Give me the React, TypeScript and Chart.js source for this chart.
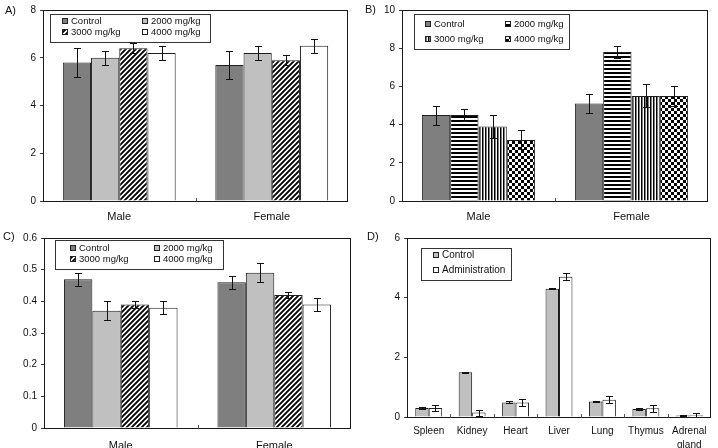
import React, { useEffect, useRef } from 'react';
import { Chart, registerables } from 'chart.js';

Chart.register(...registerables);

const FONT = '"Liberation Sans", Arial, Helvetica, sans-serif';

// ---- shared categories / series names ----
const sexGroups = ['Male', 'Female'];
const doseNames = ['Control', '2000 mg/kg', '3000 mg/kg', '4000 mg/kg'];

// ---- panel A ----
const aControl = [5.8, 5.7];
const a2000 = [6.0, 6.2];
const a3000 = [6.4, 5.9];
const a4000 = [6.2, 6.5];
const aControlSd = [0.6, 0.6];
const a2000Sd = [0.3, 0.3];
const a3000Sd = [0.2, 0.2];
const a4000Sd = [0.3, 0.3];
const aYMax = 8;
const aYStep = 2;

// ---- panel B ----
const bControl = [4.5, 5.1];
const b2000 = [4.5, 7.8];
const b3000 = [3.9, 5.5];
const b4000 = [3.2, 5.5];
const bControlSd = [0.5, 0.5];
const b2000Sd = [0.3, 0.3];
const b3000Sd = [0.6, 0.6];
const b4000Sd = [0.5, 0.5];
const bYMax = 10;
const bYStep = 2;

// ---- panel C ----
const cControl = [0.47, 0.46];
const c2000 = [0.37, 0.49];
const c3000 = [0.39, 0.42];
const c4000 = [0.38, 0.39];
const cControlSd = [0.02, 0.02];
const c2000Sd = [0.03, 0.03];
const c3000Sd = [0.01, 0.01];
const c4000Sd = [0.02, 0.02];
const cYMax = 0.6;
const cYStep = 0.1;

// ---- panel D ----
const organs = ['Spleen', 'Kidney', 'Heart', 'Liver', 'Lung', 'Thymus', ['Adrenal', 'gland']];
const groupNames = ['Control', 'Administration'];
const dControl = [0.3, 1.5, 0.49, 4.3, 0.52, 0.27, 0.05];
const dAdmin = [0.3, 0.15, 0.49, 4.7, 0.58, 0.29, 0.06];
const dControlSd = [0.03, 0.02, 0.03, 0.02, 0.03, 0.02, 0.01];
const dAdminSd = [0.1, 0.1, 0.13, 0.12, 0.12, 0.12, 0.08];
const dYMax = 6;
const dYStep = 2;

const DARK_GREY = '#7f7f7f';
const LIGHT_GREY = '#c0c0c0';
const WHITE = '#ffffff';

function makePattern(kind: string): CanvasPattern | string {
  const t = document.createElement('canvas');
  const g = t.getContext('2d');
  if (!g) return '#888';
  if (kind === 'diag') {
    t.width = 5; t.height = 5;
    g.fillStyle = '#fff'; g.fillRect(0, 0, 5, 5);
    g.strokeStyle = '#000'; g.lineWidth = 1.9;
    g.beginPath();
    g.moveTo(-2.5, 2.5); g.lineTo(2.5, -2.5);
    g.moveTo(0, 5); g.lineTo(5, 0);
    g.moveTo(2.5, 7.5); g.lineTo(7.5, 2.5);
    g.stroke();
  } else if (kind === 'hstripe') {
    t.width = 4; t.height = 4;
    g.fillStyle = '#fff'; g.fillRect(0, 0, 4, 4);
    g.fillStyle = '#000'; g.fillRect(0, 0, 4, 2);
  } else if (kind === 'vstripe') {
    t.width = 3; t.height = 3;
    g.fillStyle = '#fff'; g.fillRect(0, 0, 3, 3);
    g.fillStyle = '#000'; g.fillRect(0, 0, 1.5, 3);
  } else {
    t.width = 6; t.height = 6;
    g.fillStyle = '#fff'; g.fillRect(0, 0, 6, 6);
    g.fillStyle = '#000'; g.fillRect(0, 0, 3, 3); g.fillRect(3, 3, 3, 3);
  }
  return g.createPattern(t, 'repeat') || '#888';
}

// Error whiskers drawn from each dataset's `errorBars` array.
const errorBarPlugin = {
  id: 'errorBars',
  afterDatasetsDraw(chart: any) {
    const { ctx } = chart;
    const ys = chart.scales.y;
    ctx.save();
    ctx.strokeStyle = '#111';
    ctx.lineWidth = 1;
    chart.data.datasets.forEach((ds: any, di: number) => {
      const errs = ds.errorBars;
      if (!errs) return;
      const meta = chart.getDatasetMeta(di);
      meta.data.forEach((bar: any, i: number) => {
        const v = ds.data[i];
        const e = errs[i];
        const x = Math.round(bar.x) + 0.5;
        const yTop = Math.round(ys.getPixelForValue(v + e)) + 0.5;
        const yBot = Math.round(ys.getPixelForValue(Math.max(0, v - e))) + 0.5;
        const cap = 3.5;
        ctx.beginPath();
        ctx.moveTo(x, yTop); ctx.lineTo(x, yBot);
        ctx.moveTo(x - cap, yTop); ctx.lineTo(x + cap, yTop);
        ctx.moveTo(x - cap, yBot); ctx.lineTo(x + cap, yBot);
        ctx.stroke();
      });
    });
    ctx.restore();
  },
};

// Plot frame plus small inner tick marks between categories.
const framePlugin = {
  id: 'plotFrame',
  afterDatasetsDraw(chart: any) {
    const { ctx, chartArea: a } = chart;
    const xs = chart.scales.x;
    const L = Math.round(a.left) + 0.5;
    const R = Math.round(a.right) - 0.5;
    const T = Math.round(a.top) + 0.5;
    const B = Math.round(a.bottom) + 0.5;
    ctx.save();
    ctx.strokeStyle = '#1a1a1a';
    ctx.lineWidth = 1;
    ctx.strokeRect(L, T, R - L, B - T);
    ctx.strokeStyle = '#555';
    ctx.beginPath();
    const n = chart.data.labels.length;
    for (let i = 0; i < n - 1; i++) {
      const x = Math.round((xs.getPixelForTick(i) + xs.getPixelForTick(i + 1)) / 2) + 0.5;
      ctx.moveTo(x, B - 3.5);
      ctx.lineTo(x, B);
    }
    ctx.stroke();
    ctx.restore();
  },
};

// Boxed legend placed inside the plot area.
const boxLegendPlugin = {
  id: 'boxLegend',
  afterDatasetsDraw(chart: any, _args: any, opts: any) {
    if (!opts || !opts.w) return;
    const { ctx, chartArea: a } = chart;
    const x0 = Math.round(a.left + opts.x) + 0.5;
    const y0 = Math.round(a.top + opts.y) + 0.5;
    ctx.save();
    ctx.fillStyle = '#fff';
    ctx.fillRect(x0, y0, opts.w, opts.h);
    ctx.strokeStyle = '#333';
    ctx.lineWidth = 1;
    ctx.strokeRect(x0, y0, opts.w, opts.h);
    ctx.font = `${opts.fontSize}px ${FONT}`;
    ctx.textBaseline = 'middle';
    ctx.textAlign = 'left';
    const s = opts.swatch;
    chart.data.datasets.forEach((ds: any, i: number) => {
      const col = i % opts.cols;
      const row = Math.floor(i / opts.cols);
      const sx = Math.round(a.left + opts.colX[col]);
      const sy = Math.round(a.top + opts.rowY[row] - s / 2);
      ctx.fillStyle = ds.backgroundColor;
      ctx.fillRect(sx, sy, s, s);
      ctx.strokeStyle = '#222';
      ctx.strokeRect(sx + 0.5, sy + 0.5, s - 1, s - 1);
      ctx.fillStyle = '#111';
      ctx.fillText(ds.label, sx + s + opts.gap, a.top + opts.rowY[row] + 0.5);
    });
    ctx.restore();
  },
};

type Series = { label: string; data: number[]; sd: number[]; fill: any };

type PanelSpec = {
  labels: any[];
  series: Series[];
  yMax: number;
  yStep: number;
  W: number;
  H: number;
  area: { left: number; top: number; right: number; bottom: number };
  groupPct: number;
  xFont: number;
  xLineHeight: number;
  xPad: number;
  legend: any;
};

function buildConfig(p: PanelSpec): any {
  return {
    type: 'bar',
    data: {
      labels: p.labels,
      datasets: p.series.map((s) => ({
        label: s.label,
        data: s.data,
        errorBars: s.sd,
        backgroundColor: s.fill,
        borderColor: '#1e1e1e',
        borderWidth: 1,
        categoryPercentage: p.groupPct,
        barPercentage: 1,
      })),
    },
    options: {
      animation: false,
      responsive: false,
      devicePixelRatio: 1,
      layout: { padding: { top: p.area.top, right: p.W - p.area.right, left: 0, bottom: 0 } },
      plugins: {
        legend: { display: false },
        tooltip: { enabled: false },
        boxLegend: p.legend,
      },
      scales: {
        x: {
          grid: { display: false, drawTicks: false },
          border: { display: false },
          ticks: {
            color: '#111',
            padding: p.xPad,
            maxRotation: 0,
            autoSkip: false,
            font: { family: FONT, size: p.xFont, lineHeight: p.xLineHeight },
          },
          afterFit: (s: any) => { s.height = p.H - p.area.bottom; },
        },
        y: {
          min: 0,
          max: p.yMax,
          ticks: {
            stepSize: p.yStep,
            color: '#111',
            padding: 4,
            font: { family: FONT, size: 10 },
            callback: (v: any) => String(+Number(v).toFixed(2)),
          },
          grid: { display: true, drawOnChartArea: false, drawTicks: true, tickLength: 3, color: '#333' },
          border: { display: false },
          afterFit: (s: any) => { s.width = p.area.left; },
        },
      },
    },
    plugins: [errorBarPlugin, framePlugin, boxLegendPlugin],
  };
}

const PANEL_W = 359;
const PANEL_H = 224;

function makeSpecs(): PanelSpec[] {
  const diag = makePattern('diag');
  const hstripe = makePattern('hstripe');
  const vstripe = makePattern('vstripe');
  const checker = makePattern('checker');

  const fourLegend = (x: number, y: number, w: number, h: number, colX: number[], rowY: number[]) => ({
    x, y, w, h, colX, rowY, cols: 2, swatch: 6, gap: 3, fontSize: 9.5,
  });

  return [
    {
      labels: sexGroups,
      series: [
        { label: doseNames[0], data: aControl, sd: aControlSd, fill: DARK_GREY },
        { label: doseNames[1], data: a2000, sd: a2000Sd, fill: LIGHT_GREY },
        { label: doseNames[2], data: a3000, sd: a3000Sd, fill: diag },
        { label: doseNames[3], data: a4000, sd: a4000Sd, fill: WHITE },
      ],
      yMax: aYMax, yStep: aYStep, W: PANEL_W, H: PANEL_H,
      area: { left: 43, top: 10, right: 348, bottom: 201 },
      groupPct: 0.74, xFont: 11, xLineHeight: 1.2, xPad: 9,
      legend: fourLegend(7, 4, 160, 28, [19, 99], [11, 22]),
    },
    {
      labels: sexGroups,
      series: [
        { label: doseNames[0], data: bControl, sd: bControlSd, fill: DARK_GREY },
        { label: doseNames[1], data: b2000, sd: b2000Sd, fill: hstripe },
        { label: doseNames[2], data: b3000, sd: b3000Sd, fill: vstripe },
        { label: doseNames[3], data: b4000, sd: b4000Sd, fill: checker },
      ],
      yMax: bYMax, yStep: bYStep, W: PANEL_W, H: PANEL_H,
      area: { left: 43, top: 10, right: 349, bottom: 201 },
      groupPct: 0.74, xFont: 11, xLineHeight: 1.2, xPad: 9,
      legend: fourLegend(12, 4, 155, 35, [23, 103], [14, 29]),
    },
    {
      labels: sexGroups,
      series: [
        { label: doseNames[0], data: cControl, sd: cControlSd, fill: DARK_GREY },
        { label: doseNames[1], data: c2000, sd: c2000Sd, fill: LIGHT_GREY },
        { label: doseNames[2], data: c3000, sd: c3000Sd, fill: diag },
        { label: doseNames[3], data: c4000, sd: c4000Sd, fill: WHITE },
      ],
      yMax: cYMax, yStep: cYStep, W: PANEL_W, H: PANEL_H,
      area: { left: 44, top: 14, right: 351, bottom: 204 },
      groupPct: 0.74, xFont: 11, xLineHeight: 1.2, xPad: 11,
      legend: fourLegend(11, 2, 168, 29, [26, 110], [10, 21]),
    },
    {
      labels: organs,
      series: [
        { label: groupNames[0], data: dControl, sd: dControlSd, fill: LIGHT_GREY },
        { label: groupNames[1], data: dAdmin, sd: dAdminSd, fill: WHITE },
      ],
      yMax: dYMax, yStep: dYStep, W: PANEL_W, H: PANEL_H,
      area: { left: 48, top: 14, right: 352, bottom: 193 },
      groupPct: 0.62, xFont: 10, xLineHeight: 1.4, xPad: 7,
      legend: { x: 14, y: 10, w: 90, h: 32, colX: [26], rowY: [17, 32], cols: 1, swatch: 6, gap: 3, fontSize: 10 },
    },
  ];
}

function Panel({ index, left, top }: { index: number; left: number; top: number }) {
  const ref = useRef<HTMLCanvasElement | null>(null);
  useEffect(() => {
    if (!ref.current) return;
    const spec = makeSpecs()[index];
    const chart = new Chart(ref.current, buildConfig(spec));
    return () => chart.destroy();
  }, [index]);
  return (
    <canvas
      ref={ref}
      width={PANEL_W}
      height={PANEL_H}
      style={{ position: 'absolute', left, top, width: PANEL_W, height: PANEL_H, display: 'block' }}
    />
  );
}

const tagStyle = (left: number, top: number): React.CSSProperties => ({
  position: 'absolute',
  left,
  top,
  font: `11px ${FONT}`,
  lineHeight: '11px',
  color: '#111',
});

export default function App() {
  return (
    <div
      style={{
        position: 'fixed',
        left: 0,
        top: 0,
        width: 718,
        height: 448,
        background: '#fff',
        overflow: 'hidden',
      }}
    >
      <Panel index={0} left={0} top={0} />
      <Panel index={1} left={359} top={0} />
      <Panel index={2} left={0} top={224} />
      <Panel index={3} left={359} top={224} />
      <div style={tagStyle(5, 5)}>A)</div>
      <div style={tagStyle(365, 4)}>B)</div>
      <div style={tagStyle(3, 231)}>C)</div>
      <div style={tagStyle(367, 231)}>D)</div>
    </div>
  );
}
